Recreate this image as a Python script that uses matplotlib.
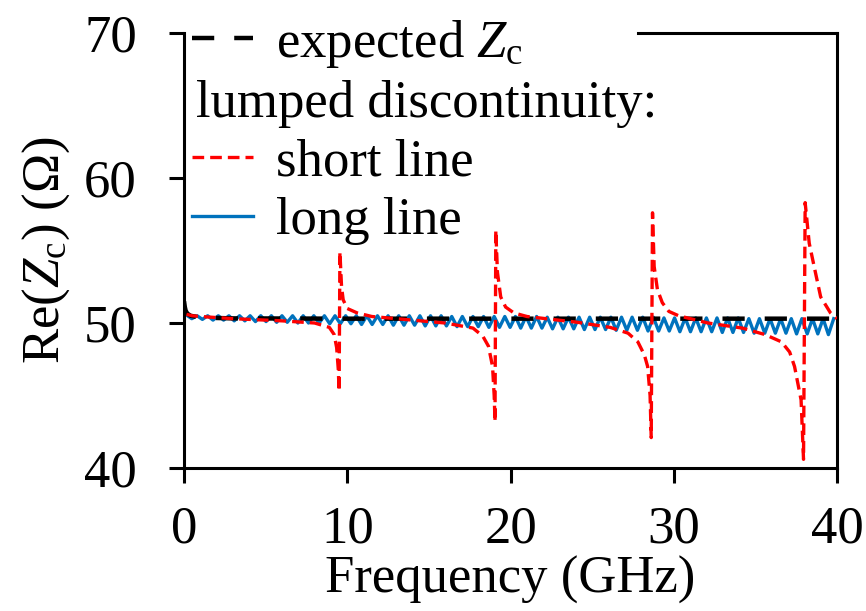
import numpy as np
import matplotlib
matplotlib.use('Agg')
import matplotlib.pyplot as plt

plt.rcParams['font.family'] = ['Liberation Serif', 'DejaVu Serif']
plt.rcParams['mathtext.fontset'] = 'custom'
plt.rcParams['mathtext.rm'] = 'Liberation Serif'
plt.rcParams['mathtext.it'] = 'Liberation Serif:italic'

# expected Zc (black)
exp_f = [0.0, 0.05, 0.1, 0.2, 0.4, 0.8, 1.5, 3.0, 10.0, 20.0, 30.0, 40.0]
exp_v = [51.5, 51.1, 50.85, 50.65, 50.5, 50.42, 50.36, 50.32, 50.3, 50.3, 50.3, 50.3]

# short line (red dashed)
short_f = [0.15, 0.5, 1.0, 3.0, 6.0, 8.0, 8.9, 9.2, 9.35, 9.45, 9.5,
           9.55, 9.65, 9.75, 10.0, 10.6, 11.5, 14.0, 16.0, 17.7, 18.3, 18.65, 18.9, 19.0, 19.05,
           19.1, 19.2, 19.4, 19.7, 20.2, 21.0, 24.1, 26.1, 27.2, 27.8, 28.2, 28.4, 28.55, 28.62,
           28.7, 28.8, 29.0, 29.3, 29.7, 30.3, 32.1, 34.2, 35.6, 36.6, 37.1, 37.4, 37.8, 37.95,
           38.05, 38.3, 38.6, 39.0, 39.6, 40.0]
short_v = [50.6, 50.5, 50.45, 50.3, 50.15, 50.0, 49.7, 49.2, 48.3, 46.8, 45.3,
           54.9, 52.5, 51.6, 51.0, 50.7, 50.45, 50.2, 50.0, 49.65, 49.1, 48.4, 47.0, 45.0, 43.2,
           56.4, 53.5, 51.8, 51.1, 50.7, 50.45, 50.05, 49.7, 49.3, 48.7, 47.8, 47.0, 45.0, 42.1,
           57.6, 53.9, 52.3, 51.4, 50.8, 50.5, 50.0, 49.65, 49.2, 48.7, 48.0, 47.0, 44.7, 40.6,
           58.3, 55.5, 53.9, 51.8, 50.7, 50.3]

# long line (blue): peaks and troughs of the ripple
blue_peaks = [50.55, 50.5, 50.5, 50.5, 50.5, 50.5, 50.5, 50.5,
              50.5, 50.5, 50.5, 50.5, 50.5, 50.5, 50.5, 50.5,
              50.5, 50.5, 50.5, 50.5, 50.5, 50.5, 50.5, 50.5,
              50.5, 50.45, 50.45, 50.45, 50.45, 50.45, 50.45, 50.45,
              50.45, 50.45, 50.4, 50.4, 50.4, 50.4, 50.4, 50.4,
              50.4, 50.4, 50.4, 50.4, 50.4, 50.35, 50.35, 50.35,
              50.35, 50.35, 50.35, 50.35, 50.35, 50.3, 50.3, 50.3,
              50.3, 50.3, 50.3, 50.3, 50.3, 50.3]
blue_troughs = [50.3, 50.25, 50.2, 50.2, 50.15, 50.15, 50.1, 50.1,
                50.05, 50.05, 50.0, 50.0, 50.0, 49.95, 49.95, 49.95,
                49.9, 49.9, 49.9, 49.85, 49.85, 49.85, 49.8, 49.8,
                49.8, 49.75, 49.75, 49.75, 49.7, 49.7, 49.7, 49.65,
                49.65, 49.65, 49.6, 49.6, 49.6, 49.55, 49.55, 49.55,
                49.5, 49.5, 49.5, 49.45, 49.45, 49.45, 49.4, 49.4,
                49.4, 49.4, 49.35, 49.35, 49.35, 49.3, 49.3, 49.3,
                49.3, 49.25, 49.25, 49.25, 49.2]
blue_step = 0.325  # GHz between successive peak and trough

blue_v = []
for i in range(len(blue_peaks)):
    blue_v.append(blue_peaks[i])
    if i < len(blue_troughs):
        blue_v.append(blue_troughs[i])
blue_f = 0.15 + blue_step * np.arange(len(blue_v))

FS = 38

fig = plt.figure(figsize=(8.66, 6.11), dpi=100)
ax = fig.add_axes([0.2125, 0.234, 0.754, 0.712])

l_long, = ax.plot(blue_f, blue_v, color='#0072BD', lw=2.4, zorder=2)
l_exp, = ax.plot(exp_f, exp_v, color='black', lw=3.2, dashes=(5, 4.5), zorder=3)
l_short, = ax.plot(short_f, short_v, color='red', lw=2.4, dashes=(3.5, 1.8), zorder=4)
l_head, = ax.plot([], [], color='none')

ax.set_xlim(0, 40)
ax.set_ylim(40, 70)
ax.set_xticks([0, 10, 20, 30, 40])
ax.set_yticks([40, 50, 60, 70])
ax.tick_params(direction='out', length=11, width=2.2, labelsize=FS)
ax.tick_params(axis='y', pad=23)
ax.tick_params(axis='x', pad=16)
for s in ax.spines.values():
    s.set_linewidth(2.2)
# legend hides the left part of the top frame line
ax.spines['top'].set_bounds(27.8, 40)

ax.set_xlabel('Frequency (GHz)', fontsize=FS, labelpad=2)
ax.set_ylabel(r'Re($Z_\mathrm{c}$) (Ω)', fontsize=FS, labelpad=9)

leg = ax.legend([l_exp, l_head, l_short, l_long],
                [r'expected $Z_\mathrm{c}$', 'lumped discontinuity:', 'short line', 'long line'],
                loc='upper left', bbox_to_anchor=(0.012, 1.035), fontsize=FS,
                handlelength=1.15, handletextpad=0.45, labelspacing=0.2,
                borderpad=0.0, borderaxespad=0, frameon=False)
leg.set_zorder(10)
leg.get_texts()[1].set_x(-80)

fig.savefig('out.png', dpi=100)
